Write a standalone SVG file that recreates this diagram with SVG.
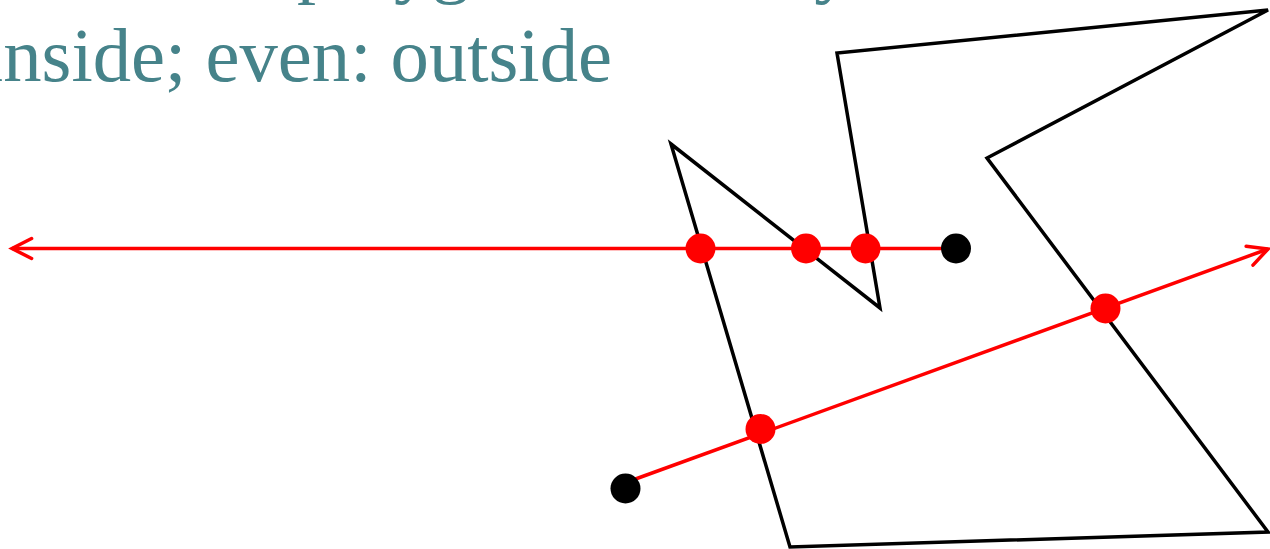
<svg xmlns="http://www.w3.org/2000/svg" width="1270" height="549" viewBox="0 0 1270 549">
  <style>
    .title { font-family: "Liberation Serif", "Times New Roman", serif; font-size: 76px; fill: #46838A; }
    .poly { fill: none; stroke: #000; stroke-width: 3.5; stroke-linejoin: miter; }
    .ray { fill: none; stroke: #FF0000; stroke-width: 3.5; }
    .hit { fill: #FF0000; }
    .start { fill: #000; }
  </style>
  <defs>
    <marker id="arrow" viewBox="-25 -15 30 30" refX="0" refY="0" markerWidth="30" markerHeight="30" markerUnits="userSpaceOnUse" orient="auto" overflow="visible">
      <path d="M-19.6,-10 L0,0 L-19.6,10" fill="none" stroke="#FF0000" stroke-width="3.5" stroke-linecap="round" stroke-linejoin="miter"/>
    </marker>
  </defs>
  <g id="title">
    <text class="title" x="297" y="-11">polygon boundary</text>
    <text class="title" x="-18" y="81" textLength="630" lengthAdjust="spacingAndGlyphs">inside; even: outside</text>
  </g>
  <g id="polygon">
    <polygon class="poly" points="671,144 880,308 837,53 1268,10 987,158 1268,532 790,547"/>
  </g>
  <g id="connectors">
    <line class="ray" x1="956" y1="248.5" x2="12" y2="248.5" marker-end="url(#arrow)"/>
    <line class="ray" x1="630" y1="481" x2="1268" y2="249" marker-end="url(#arrow)"/>
  </g>
  <g id="ray1-points">
    <circle class="hit" cx="700.5" cy="248.5" r="15"/>
    <circle class="hit" cx="806" cy="248.5" r="15"/>
    <circle class="hit" cx="865.5" cy="248.5" r="15"/>
    <circle class="start" cx="956" cy="248.5" r="15"/>
  </g>
  <g id="ray2-points">
    <circle class="start" cx="625.5" cy="488.5" r="15"/>
    <circle class="hit" cx="760.5" cy="429" r="15"/>
    <circle class="hit" cx="1105.5" cy="308.5" r="15"/>
  </g>
</svg>
